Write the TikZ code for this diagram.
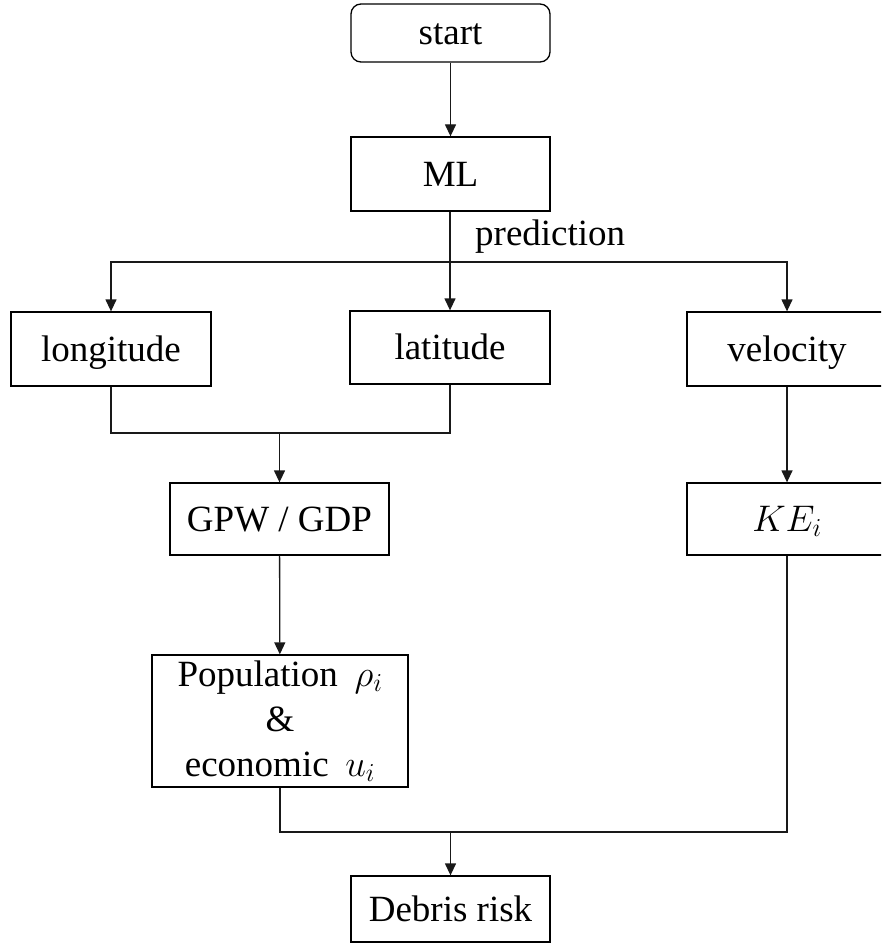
\RequirePackage{fix-cm}
\documentclass[tikz,border=0pt]{standalone}
\usepackage{fontspec}
\setmainfont{Liberation Serif}
\usetikzlibrary{arrows.meta}

\begin{document}
\begin{tikzpicture}[x=1pt,y=-1pt,
  box/.style={draw=black, line width=1.3pt, inner sep=0pt, align=center,
    font=\fontsize{37}{45}\selectfont, fill=white},
  onebox/.style={box, text height=27.5pt, text depth=3.5pt},
  link/.style={draw=black!90, line width=1.3pt},
  arr/.style={link, -{Triangle[length=12pt,width=11pt]}}]
\useasboundingbox (0,0) rectangle (881,944);
\clip (0,0) rectangle (881,944);

% boxes
\node[onebox, rounded corners=10pt, minimum width=199pt, minimum height=58pt] (start) at (450.5,33) {start};
\node[onebox, minimum width=199pt, minimum height=74pt] (ml) at (450.5,174) {ML};
\node[onebox, minimum width=200pt, minimum height=74pt] (lon) at (111,349) {longitude};
\node[onebox, minimum width=200pt, minimum height=73pt] (lat) at (450,347.5) {latitude};
\node[onebox, minimum width=200pt, minimum height=74pt] (vel) at (787,349) {velocity};
\node[onebox, minimum width=219pt, minimum height=72pt] (gpw) at (279.5,519) {GPW / GDP};
\node[onebox, minimum width=200pt, minimum height=72pt] (ke) at (787,519) {$KE_i$};
\node[box, minimum width=256pt, minimum height=132pt] (pop) at (280,721)
  {Population\hspace{0.45em}$\rho_i$\\\&\\economic\hspace{0.45em}$u_i$};
\node[onebox, minimum width=199pt, minimum height=66pt] (risk) at (450.5,909) {Debris risk};

% label on the split
\node[anchor=base west, inner sep=0pt, font=\fontsize{37}{45}\selectfont] (pred) at (475,245) {prediction};

% junction points
\coordinate (split) at (450,262);
\coordinate (join1) at (279.5,433);
\coordinate (join2) at (450.5,832);

% connectors
\draw[arr] (start) -- (ml);
\draw[arr] (ml.south -| lat.north) -- (lat.north);
\draw[arr] (split) -| (lon.north);
\draw[arr] (split) -| (vel.north);
\draw[link] (lon.south) |- (join1);
\draw[link] (lat.south) |- (join1);
\draw[arr] (join1) -- (gpw.north);
\draw[arr] (gpw) -- (pop);
\draw[arr] (vel) -- (ke);
\draw[link] (pop.south) |- (join2);
\draw[link] (ke.south) |- (join2);
\draw[arr] (join2) -- (risk.north);
\end{tikzpicture}
\end{document}
